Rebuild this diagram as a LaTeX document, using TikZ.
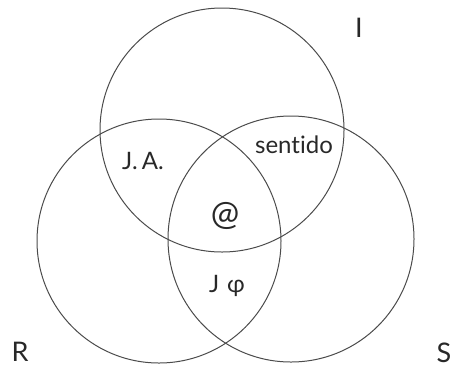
\documentclass[tikz,border=0pt]{standalone}
\usepackage{fontspec}
\setmainfont[Ligatures=CommonOff]{Lato}
\usepackage{xcolor}
\definecolor{ringgrey}{RGB}{75,75,75}
\definecolor{textgrey}{RGB}{40,40,40}
\tikzset{
  ring/.style={draw=ringgrey, line width=1pt},
  lbl/.style={font=\fontsize{27}{30}\selectfont, text=textgrey, inner sep=0pt},
  region/.style={font=\fontsize{24}{27}\selectfont, text=textgrey, inner sep=0pt},
}
\begin{document}
\begin{tikzpicture}[x=1pt,y=-1pt]

\useasboundingbox (0,0) rectangle (454,373);

% the three rings
\coordinate (ci) at (222,130);
\coordinate (cr) at (159,241);
\coordinate (cs) at (291,239);
\draw[ring] (ci) circle (122);
\draw[ring] (cr) circle (122);
\draw[ring] (cs) circle (123);

% ring names
\node[lbl] (imag) at (359,28) {I};
\node[lbl] (real) at (20,352) {R};
\node[lbl] (symb) at (444,353) {S};

% regions
\node[region] (ja) at (143,161) {J.\,A.};
\node[region] (sentido) at (294,145) {sentido};
\node[region, font=\fontsize{34}{36}\selectfont] (objeto) at (225,216) {@};
\node[region] (jphi) at (227,286) {J\,\,φ};

\end{tikzpicture}
\end{document}
